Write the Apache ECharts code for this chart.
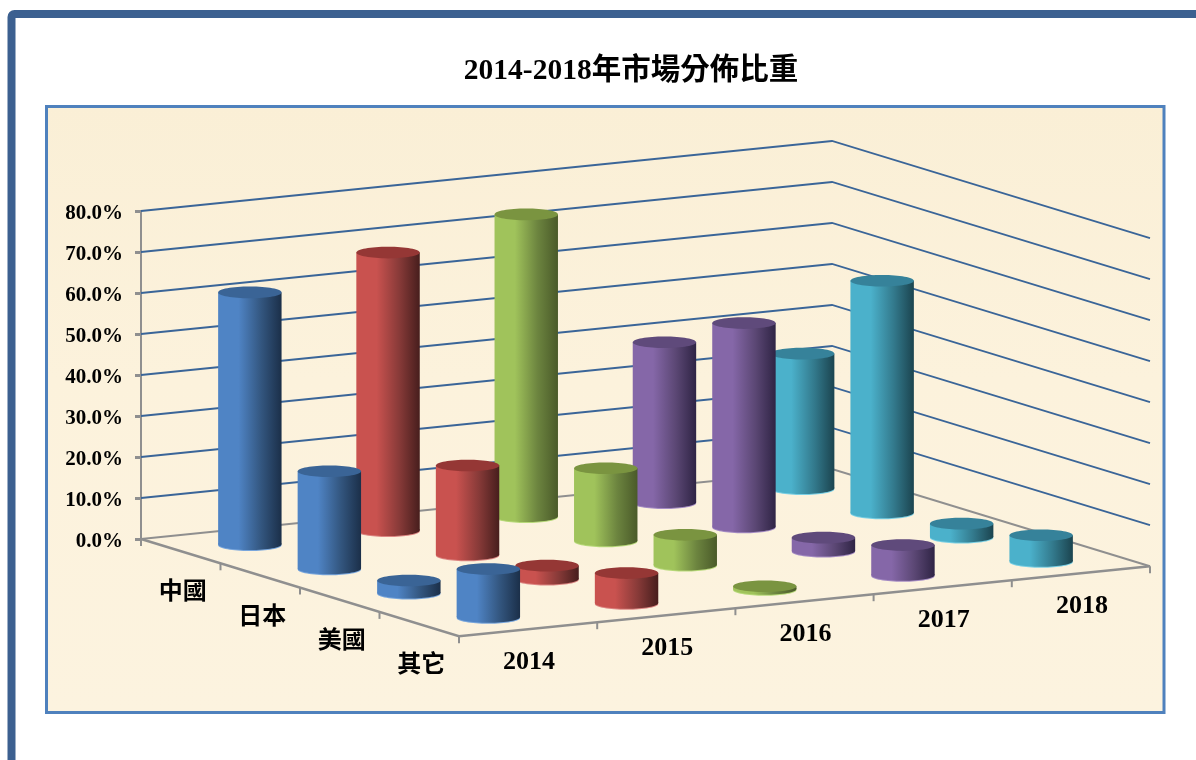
<!DOCTYPE html>
<html>
<head>
<meta charset="utf-8">
<style>html,body{margin:0;padding:0;background:#fff;overflow:hidden}#c{width:1196px;height:760px}</style>
<script src="https://cdn.jsdelivr.net/npm/echarts@6/dist/echarts.min.js"></script>
</head>
<body>
<div id="c"></div>
<script>
const titleText = '2014-2018年市場分佈比重';
const years = ['2014', '2015', '2016', '2017', '2018'];
const regions = ['中國', '日本', '美國', '其它'];
const yTicks = [0, 10, 20, 30, 40, 50, 60, 70, 80];
const china = [61.4, 67.7, 73.6, 39.0, 32.8];
const japan = [23.7, 21.7, 17.6, 49.6, 56.5];
const usa = [3.0, 3.2, 7.3, 3.2, 3.2];
const other = [11.7, 7.3, 0.7, 7.3, 6.3];

const lightColors = ['#4f84c5', '#c9524f', '#a0c35b', '#8567a8', '#4bb1cb'];
const midColors = ['#33567f', '#873a38', '#6c843f', '#5b4774', '#337a8d'];
const darkColors = ['#1b2f49', '#471e1d', '#4a5a29', '#2f2445', '#1b444f'];
const topColors = ['#3a6496', '#953735', '#7a9440', '#5f4a7b', '#36829a'];
const rimColors = ['#79a6dc', '#dc8683', '#b7d97a', '#a58cc4', '#79cfe4'];

const SERIF = '"Liberation Serif","Noto Sans CJK TC",serif';
const GREY = '#8f8f8f';
const BLUE = '#3a6598';
const SHEAR = -0.1013, DEPTH_X = 79.5, DEPTH_Y = 24.3;

function projector(api) {
  const band = api.size([1, 0])[0];
  return function (u, d, v) {
    const p = api.coord([0, v]);
    return [p[0] + (u - 0.5) * band + d * DEPTH_X, p[1] + u * band * SHEAR + d * DEPTH_Y];
  };
}

function renderFrame(params, api) {
  const P = projector(api);
  const n = years.length, m = regions.length;
  const children = [];
  const line = (pts, stroke, lineWidth) => children.push({
    type: 'polyline', shape: { points: pts }, style: { stroke, lineWidth, fill: null }, silent: true
  });
  yTicks.forEach(v => {
    line([P(0, 0, v), P(n, 0, v), P(n, m, v)], v === 0 ? GREY : BLUE, v === 0 ? 2 : 1.8);
  });
  line([P(0, 0, 0), P(0, m, 0), P(n, m, 0)], GREY, 2.4);
  for (let d = 0; d <= m; d++) {
    const a = P(0, d, 0);
    line([a, [a[0], a[1] + 7]], GREY, 2);
  }
  for (let u = 1; u <= n; u++) {
    const a = P(u, m, 0);
    line([a, [a[0], a[1] + 7]], GREY, 2);
  }
  years.forEach((t, i) => {
    const a = P(i + 0.5, m, 0);
    children.push({ type: 'text', silent: true, style: {
      text: t, x: a[0] + 1, y: a[1] + 33, align: 'center', verticalAlign: 'middle',
      fontFamily: SERIF, fontWeight: 'bold', fontSize: 26, fill: '#000' } });
  });
  regions.forEach((t, j) => {
    const a = P(0, j + 0.5, 0);
    children.push({ type: 'text', silent: true, style: {
      text: t, x: a[0] + 2, y: a[1] + 42, align: 'center', verticalAlign: 'middle',
      fontFamily: SERIF, fontWeight: 'bold', fontSize: 24, fill: '#000' } });
  });
  return { type: 'group', children };
}

function cylinderRenderer(depthIndex) {
  return function (params, api) {
    const P = projector(api);
    const band = api.size([1, 0])[0];
    const i = api.value(0), v = api.value(1);
    const rx = band * 0.2295, ry = band * 0.042;
    const b = P(i + 0.5, depthIndex + 0.5, 0);
    const t = P(i + 0.5, depthIndex + 0.5, v);
    const fill = {
      type: 'linear', x: 0, y: 0, x2: 1, y2: 0, global: false,
      colorStops: [
        { offset: 0, color: lightColors[i] },
        { offset: 0.32, color: lightColors[i] },
        { offset: 0.68, color: midColors[i] },
        { offset: 1, color: darkColors[i] }
      ]
    };
    return {
      type: 'group',
      children: [
        { type: 'ellipse', silent: true, shape: { cx: b[0], cy: b[1] + 1, rx, ry }, style: { fill: rimColors[i] } },
        { type: 'ellipse', silent: true, shape: { cx: b[0], cy: b[1], rx, ry }, style: { fill } },
        { type: 'rect', silent: true, shape: { x: b[0] - rx, y: t[1], width: rx * 2, height: b[1] - t[1] }, style: { fill } },
        { type: 'ellipse', silent: true, shape: { cx: t[0], cy: t[1], rx, ry }, style: { fill: topColors[i] } }
      ]
    };
  };
}

const seriesValues = [china, japan, usa, other];
const chart = echarts.init(document.getElementById('c'), null, { renderer: 'canvas' });
chart.setOption({
  animation: false,
  backgroundColor: '#fff',
  title: {
    text: titleText, left: 626, top: 52, textAlign: 'center',
    textStyle: { fontFamily: SERIF, fontWeight: 'bold', fontSize: 29.5, color: '#000' }
  },
  graphic: [
    { type: 'rect', z: -10, silent: true, shape: { x: 11.5, y: 14, width: 1400, height: 1000, r: 3 },
      style: { fill: '#fff', stroke: '#3c6090', lineWidth: 8 } },
    { type: 'rect', z: -9, silent: true, shape: { x: 46.5, y: 106.5, width: 1117.5, height: 606 },
      style: { fill: { type: 'linear', x: 0, y: 0, x2: 0, y2: 1, colorStops: [
        { offset: 0, color: '#faefd6' }, { offset: 0.45, color: '#fcf2dc' }, { offset: 1, color: '#fcf3df' } ] },
        stroke: '#4f81bd', lineWidth: 3 } }
  ],
  grid: { left: 141, top: 211, width: 691, height: 328 },
  xAxis: { type: 'category', data: years, show: false },
  yAxis: {
    type: 'value', min: 0, max: 80, interval: 10,
    splitLine: { show: false },
    axisLine: { show: true, lineStyle: { color: GREY, width: 2 } },
    axisTick: { show: true, length: 6, lineStyle: { color: GREY, width: 3 } },
    axisLabel: { margin: 18, verticalAlign: 'top', lineHeight: 6, fontFamily: SERIF, fontWeight: 'bold', fontSize: 21, color: '#000',
      formatter: v => v.toFixed(1) + '%' }
  },
  series: [
    { type: 'custom', name: 'frame', renderItem: renderFrame, data: [[0, 0]], silent: true, z: 2, clip: false }
  ].concat(seriesValues.map((vals, j) => ({
    type: 'custom', name: regions[j], renderItem: cylinderRenderer(j),
    data: vals.map((v, i) => [i, v]), encode: { x: 0, y: 1 }, silent: true, z: 3 + j, clip: false
  })))
});
</script>
</body>
</html>
